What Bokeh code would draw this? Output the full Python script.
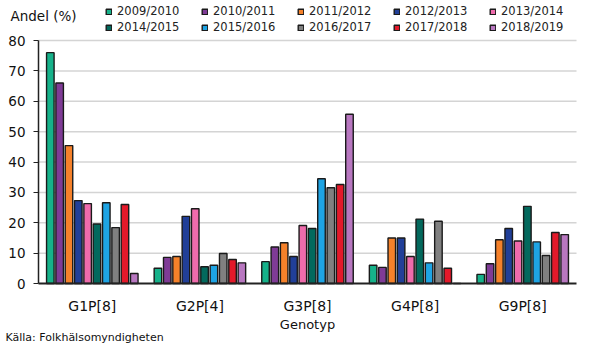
from bokeh.plotting import figure
from bokeh.models import (Range1d, Legend, LegendItem, Label, LinearAxis,
                          FixedTicker)
from bokeh.transform import dodge
from bokeh.embed import file_html
from bokeh.resources import INLINE

genotypes = ["G1P[8]", "G2P[4]", "G3P[8]", "G4P[8]", "G9P[8]"]
seasons = ["2009/2010", "2010/2011", "2011/2012", "2012/2013", "2013/2014",
           "2014/2015", "2015/2016", "2016/2017", "2017/2018", "2018/2019"]
colors = ["#16b28a", "#7f3b96", "#f5812a", "#213f98", "#ef6bac",
          "#03695d", "#1ea4e4", "#808080", "#e3192a", "#b877c0"]
yticks = [0, 10, 20, 30, 40, 50, 60, 70, 80]

v2009 = [76.0, 5.0, 7.2, 6.0, 3.0]
v2010 = [66.0, 8.6, 12.0, 5.3, 6.5]
v2011 = [45.4, 8.9, 13.4, 15.0, 14.4]
v2012 = [27.3, 22.1, 8.9, 15.0, 18.1]
v2013 = [26.3, 24.6, 19.1, 8.9, 14.0]
v2014 = [19.6, 5.5, 18.1, 21.2, 25.4]
v2015 = [26.6, 6.0, 34.5, 6.8, 13.7]
v2016 = [18.4, 9.9, 31.5, 20.5, 9.2]
v2017 = [26.0, 7.9, 32.6, 5.0, 16.8]
v2018 = [3.3, 6.8, 55.7, 0.0, 16.1]
values = [v2009, v2010, v2011, v2012, v2013, v2014, v2015, v2016, v2017, v2018]

FONT = "DejaVu Sans"
W, H = 590, 352
# plot area in pixels: left 38, right 576, top 40, bottom 283
px_x = (576 - 38) / len(genotypes)
px_y = (283 - 40) / yticks[-1]
x_range = Range1d(-38 / px_x, len(genotypes) + (W - 576) / px_x)
y_range = Range1d(-(H - 283) / px_y, yticks[-1] + 40 / px_y)

p = figure(x_range=x_range, y_range=y_range, width=W, height=H,
           output_backend="svg", toolbar_location=None,
           x_axis_type=None, y_axis_type=None, min_border=0)
p.outline_line_color = None
p.background_fill_color = "white"
p.grid.visible = False

centers = [i + 0.5 for i in range(len(genotypes))]

# horizontal grid lines
p.segment(x0=0, x1=len(genotypes), y0=yticks[1:], y1=yticks[1:],
          line_color="#d4d4d4", line_width=1.5)

slot = 0.0867
renderers = []
for i, (s, c, vals) in enumerate(zip(seasons, colors, values)):
    src = {"xc": centers, "v": vals}
    off = (i - 4.5) * slot
    r = p.vbar(x=dodge("xc", off), top="v", width=0.07, source=src,
               fill_color=c, line_color="#1a1a1a", line_width=1.4)
    renderers.append(r)

items = [LegendItem(label=s, renderers=[r]) for s, r in zip(seasons, renderers)]
legend = Legend(items=items, orientation="horizontal", ncols=5,
                location=(105, H - 34),
                label_text_font=FONT, label_text_font_size="11.5px",
                label_text_color="#222222",
                glyph_width=7, glyph_height=7, label_standoff=5,
                spacing=2, padding=0, margin=0, label_height=13,
                label_width=82,
                border_line_color=None, background_fill_alpha=0)
p.add_layout(legend, "center")

# y axis
yaxis = LinearAxis(fixed_location=0, bounds=(0, yticks[-1]),
                   ticker=FixedTicker(ticks=yticks))
yaxis.axis_line_color = "#222222"
yaxis.axis_line_width = 1.5
yaxis.major_tick_line_color = "#222222"
yaxis.major_tick_line_width = 1
yaxis.major_tick_out = 5
yaxis.major_tick_in = 0
yaxis.minor_tick_line_color = None
yaxis.major_label_text_font = FONT
yaxis.major_label_text_font_size = "13.5px"
yaxis.major_label_text_color = "#111111"
yaxis.major_label_standoff = 8
p.add_layout(yaxis, "left")

# x axis
xaxis = LinearAxis(fixed_location=0, bounds=(0, len(genotypes)),
                   ticker=FixedTicker(ticks=centers),
                   major_label_overrides={c: g for c, g in zip(centers, genotypes)})
xaxis.axis_line_color = "#222222"
xaxis.axis_line_width = 2
xaxis.major_tick_line_color = None
xaxis.major_tick_out = 6
xaxis.major_tick_in = 0
xaxis.minor_tick_line_color = None
xaxis.major_label_text_font = FONT
xaxis.major_label_text_font_size = "14px"
xaxis.major_label_text_color = "#111111"
xaxis.major_label_standoff = 8
xaxis.axis_label = "Genotyp"
xaxis.axis_label_text_font = FONT
xaxis.axis_label_text_font_size = "13px"
xaxis.axis_label_text_font_style = "normal"
xaxis.axis_label_text_color = "#111111"
xaxis.axis_label_standoff = 0
p.add_layout(xaxis, "below")

p.add_layout(Label(x=10, y=H - 15, x_units="screen", y_units="screen",
                   text="Andel (%)", text_font=FONT, text_font_size="13.5px",
                   text_color="#111111", text_baseline="middle"))
p.add_layout(Label(x=5, y=15, x_units="screen", y_units="screen",
                   text="Källa:  Folkhälsomyndigheten", text_font=FONT,
                   text_font_size="11px", text_color="#111111",
                   text_baseline="middle"))

open("out.html", "w").write(file_html(p, INLINE))
